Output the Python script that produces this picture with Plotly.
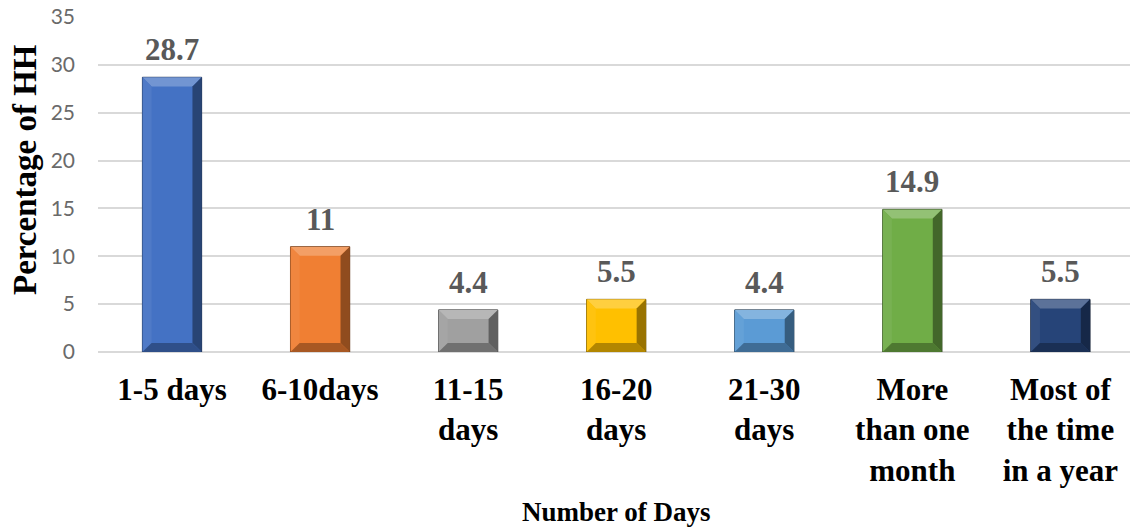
import plotly.graph_objects as go

# Share of households by number of days
categories = ["1-5 days", "6-10days", "11-15<br>days", "16-20<br>days",
              "21-30<br>days", "More<br>than one<br>month", "Most of<br>the time<br>in a year"]
values = [28.7, 11, 4.4, 5.5, 4.4, 14.9, 5.5]
bar_colors = ["#4472C4", "#F07F33", "#A0A0A0", "#FFC000", "#5B9BD5", "#70AD47", "#264478"]
y_ticks = [0, 5, 10, 15, 20, 25, 30, 35]

SERIF = "Liberation Serif, Times New Roman, serif"
BAR_W = 0.4
BEVEL_X = 0.062   # bevel inset along the category axis
BEVEL_Y = 0.95    # bevel inset along the value axis


def shade(hex_color, f):
    """Lighten (f > 0) or darken (f < 0) a hex colour."""
    h = hex_color.lstrip("#")
    r, g, b = (int(h[i:i + 2], 16) for i in (0, 2, 4))
    if f >= 0:
        r, g, b = (int(c + (255 - c) * f) for c in (r, g, b))
    else:
        r, g, b = (int(c * (1 + f)) for c in (r, g, b))
    return f"rgb({r},{g},{b})"


fig = go.Figure()
xs = list(range(len(categories)))

fig.add_trace(go.Bar(
    x=xs, y=values, width=BAR_W,
    marker=dict(color=bar_colors, line=dict(color=[shade(c, -0.6) for c in bar_colors], width=1)),
    hoverinfo="x+y", showlegend=False,
))

# Bevelled edges drawn from each bar's value
shapes = []
for i, (v, c) in enumerate(zip(values, bar_colors)):
    x0, x1 = i - BAR_W / 2, i + BAR_W / 2
    dx, dy = BEVEL_X, min(BEVEL_Y, v / 4)
    faces = [
        ([(x0, v), (x1, v), (x1 - dx, v - dy), (x0 + dx, v - dy)], shade(c, 0.25)),
        ([(x0, 0), (x0, v), (x0 + dx, v - dy), (x0 + dx, dy)], shade(c, 0.06)),
        ([(x1, 0), (x1, v), (x1 - dx, v - dy), (x1 - dx, dy)], shade(c, -0.4)),
        ([(x0, 0), (x1, 0), (x1 - dx, dy), (x0 + dx, dy)], shade(c, -0.3)),
    ]
    for pts, col in faces:
        path = "M " + " L ".join(f"{px},{py}" for px, py in pts) + " Z"
        shapes.append(dict(type="path", path=path, xref="x", yref="y",
                           fillcolor=col, line=dict(width=0), layer="above"))

annotations = []
for i, v in enumerate(values):
    annotations.append(dict(
        x=i, y=v, xref="x", yref="y", text=f"<b>{v:g}</b>", showarrow=False,
        yanchor="bottom", yshift=8,
        font=dict(family=SERIF, size=31, color="#595959"),
    ))

annotations.append(dict(
    x=(25 - 98) / 1032, y=(352 - 170) / 335, xref="paper", yref="paper",
    text="<b>Percentage of HH</b>", textangle=-90, showarrow=False,
    xanchor="center", yanchor="middle",
    font=dict(family=SERIF, size=33, color="#000000"),
))
annotations.append(dict(
    x=(616 - 98) / 1032, y=-(512 - 352) / 335, xref="paper", yref="paper",
    text="<b>Number of Days</b>", showarrow=False,
    xanchor="center", yanchor="middle",
    font=dict(family=SERIF, size=27, color="#000000"),
))

fig.update_layout(
    width=1130, height=529,
    margin=dict(l=98, r=0, t=17, b=177),
    plot_bgcolor="white", paper_bgcolor="white",
    shapes=shapes, annotations=annotations,
    bargap=0.6,
)
fig.update_xaxes(
    tickmode="array", tickvals=xs, ticktext=[f"<b>{c}</b>" for c in categories],
    range=[-0.5, 6.47], showgrid=False, zeroline=False, showline=False,
    tickfont=dict(family=SERIF, size=31, color="#000000"),
    ticks="", ticklabelstandoff=16,
)
fig.update_yaxes(
    range=[0, 35], tickmode="array", tickvals=y_ticks,
    showgrid=True, gridcolor="#D9D9D9", gridwidth=1.5,
    zeroline=True, zerolinecolor="#D9D9D9", zerolinewidth=1.5,
    showline=False, ticks="",
    tickfont=dict(family="Lato, Open Sans, sans-serif", size=21, color="#6A6A6A"),
    ticklabelstandoff=22,
)

fig.write_html("out.html")
